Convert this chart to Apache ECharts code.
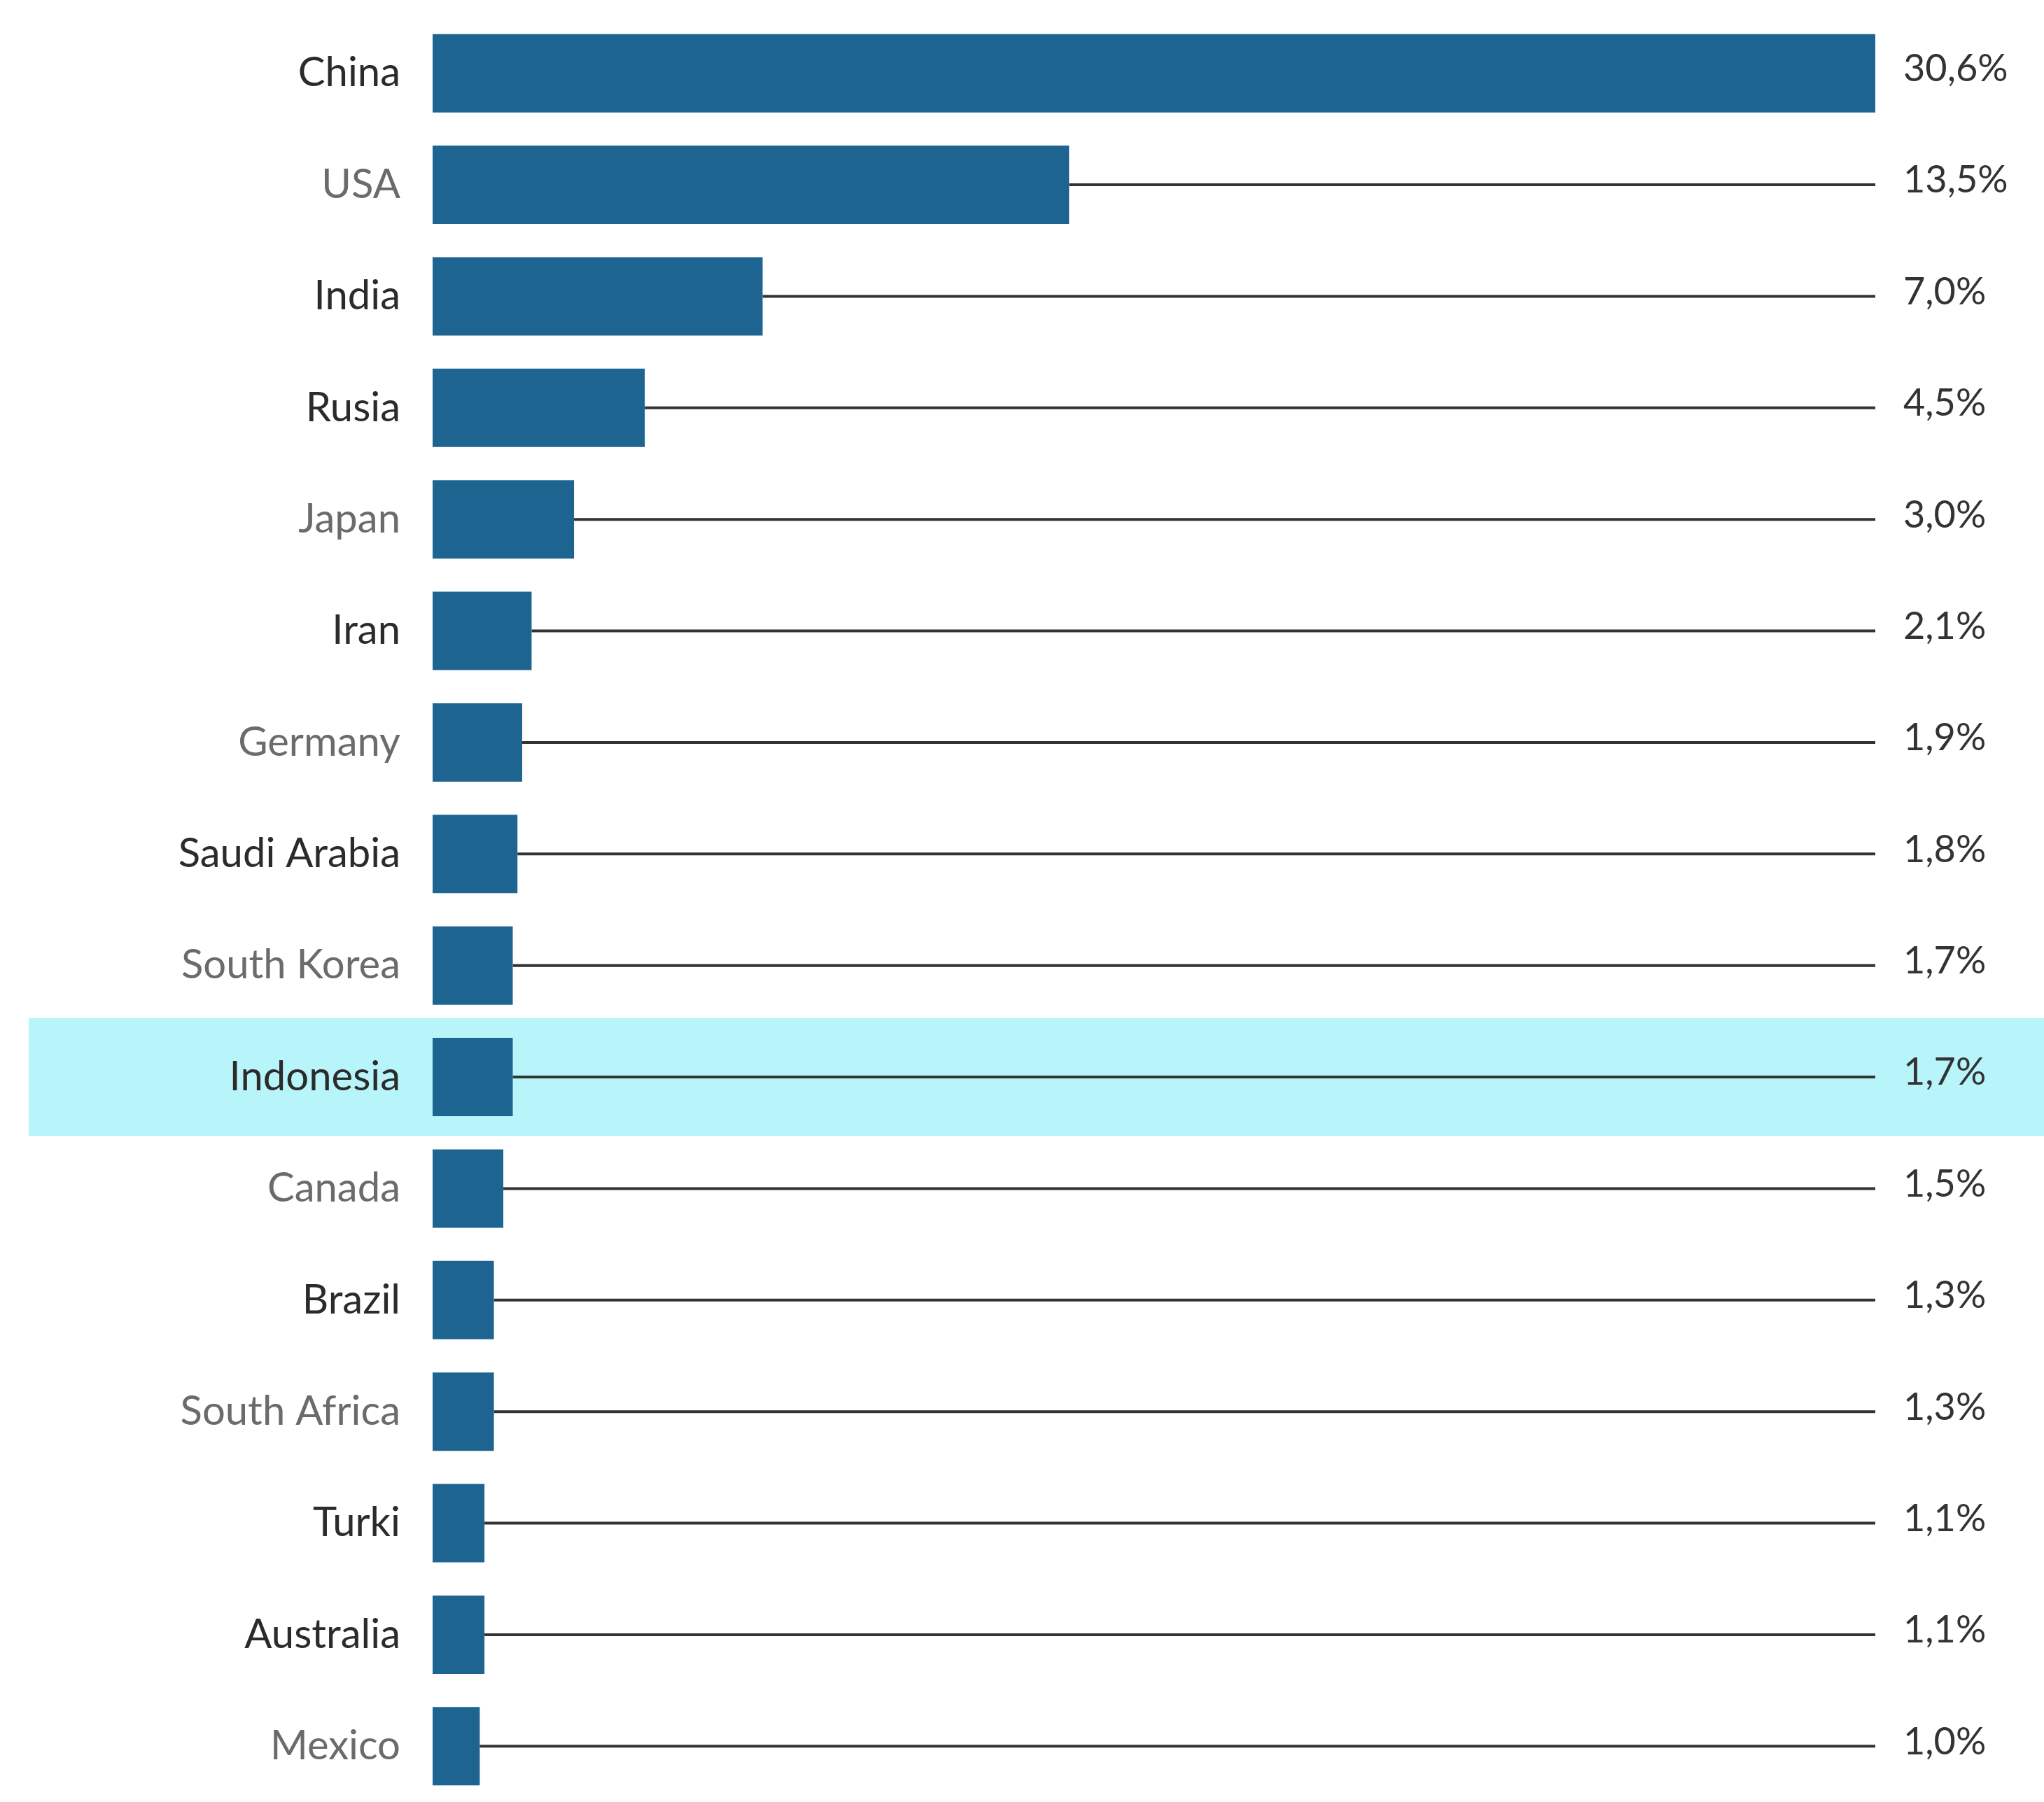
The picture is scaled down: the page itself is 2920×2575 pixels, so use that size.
<!DOCTYPE html>
<html>
<head>
<meta charset="utf-8">
<script src="https://cdn.jsdelivr.net/npm/echarts@6/dist/echarts.min.js"></script>
<style>html,body{margin:0;background:#fff}#chart{width:2920px;height:2575px}</style>
</head>
<body>
<div id="chart"></div>
<script>
var countries = ['China', 'USA', 'India', 'Rusia', 'Japan', 'Iran', 'Germany', 'Saudi Arabia', 'South Korea', 'Indonesia', 'Canada', 'Brazil', 'South Africa', 'Turki', 'Australia', 'Mexico'];
var shares = [30.6, 13.5, 7.0, 4.5, 3.0, 2.1, 1.9, 1.8, 1.7, 1.7, 1.5, 1.3, 1.3, 1.1, 1.1, 1.0];
var greyLabels = ['USA', 'Japan', 'Germany', 'South Korea', 'Canada', 'South Africa', 'Mexico'];
var highlighted = 'Indonesia';
var xMax = 30.6;

var chart = echarts.init(document.getElementById('chart'));

var catData = countries.map(function(c) {
	return { value: c, textStyle: { color: greyLabels.indexOf(c) >= 0 ? '#6b6b6b' : '#2b2b2b' } };
});

chart.setOption({
	animation: false,
	grid: { left: 618, width: 2061, top: 25, height: 2552 },
	xAxis: { type: 'value', min: 0, max: xMax, show: false },
	yAxis: {
		type: 'category', inverse: true, data: catData,
		axisLine: { show: false }, axisTick: { show: false },
		axisLabel: { fontFamily: 'Lato', fontSize: 58, margin: 46, color: '#333' }
	},
	series: [
		{
			// highlight band
			type: 'custom', z: 0, clip: false,
			data: countries.map(function(c, i) { return [xMax, i]; }),
			renderItem: function(params, api) {
				if (countries[params.dataIndex] !== highlighted) return;
				var p = api.coord([0, api.value(1)]);
				return { type: 'rect', shape: { x: 41, y: p[1] - 84, width: 2879, height: 168 }, style: { fill: '#b8f5fb' } };
			}
		},
		{
			type: 'bar', z: 2, data: shares, barWidth: 112,
			itemStyle: { color: '#1e6490' }
		},
		{
			// leader lines + value labels
			type: 'custom', z: 1, clip: false,
			data: shares.map(function(v, i) { return [v, i]; }),
			renderItem: function(params, api) {
				var a = api.coord([api.value(0), api.value(1)]);
				var b = api.coord([xMax, api.value(1)]);
				var txt = api.value(0).toFixed(1).replace('.', ',') + '%';
				return { type: 'group', children: [
					{ type: 'line', shape: { x1: a[0], y1: a[1], x2: b[0], y2: b[1] }, style: { stroke: '#333', lineWidth: 4 } },
					{ type: 'text', x: b[0] + 40, y: b[1] - 6, style: { text: txt, fill: '#333', font: '54px Lato', verticalAlign: 'middle' } }
				] };
			}
		}
	]
});
</script>
</body>
</html>
